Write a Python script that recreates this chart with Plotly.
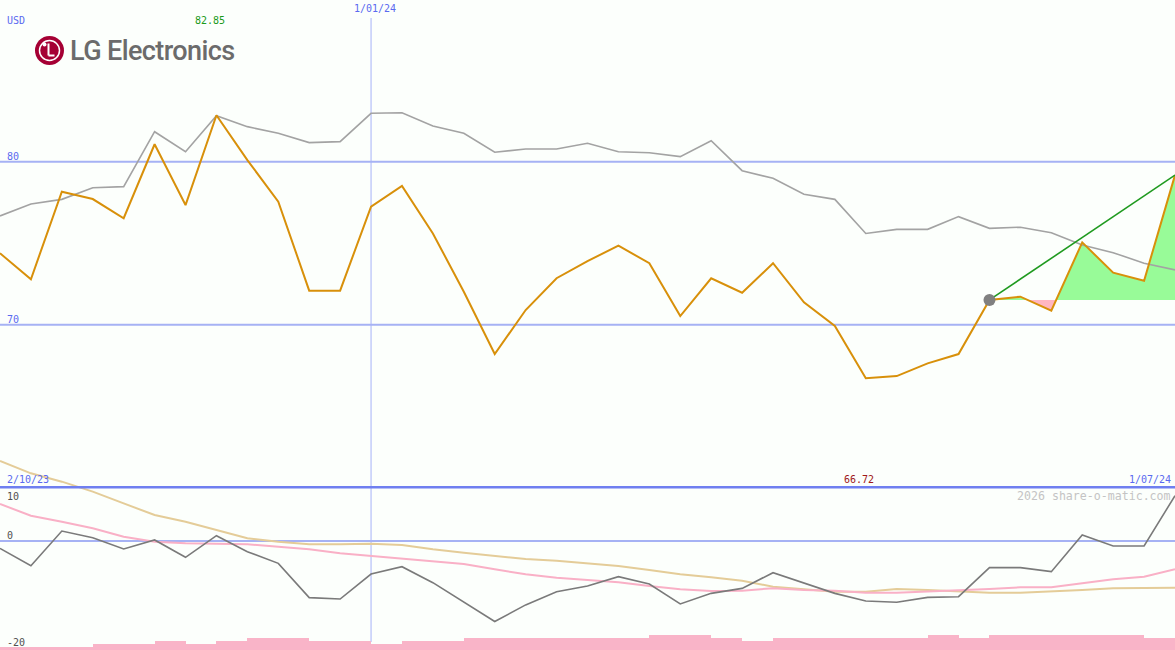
import pandas as pd
import plotly.graph_objects as go

# ---------------- data ----------------
dates = pd.date_range("2023-10-09", periods=39, freq="7D")

close = [74.38, 72.79, 78.16, 77.71, 76.53, 81.07, 77.34, 82.85, 80.10, 77.55,
         72.09, 72.09, 77.24, 78.51, 75.60, 72.02, 68.20, 70.90, 72.85, 73.90,
         74.85, 73.77, 70.53, 72.85, 71.96, 73.77, 71.37, 69.92, 66.72, 66.85,
         67.63, 68.20, 71.52, 71.72, 70.86, 75.05, 73.19, 72.70, 79.18]

moving_avg = [76.67, 77.40, 77.69, 78.40, 78.47, 81.84, 80.61, 82.82, 82.15, 81.74,
              81.17, 81.23, 82.97, 83.00, 82.19, 81.74, 80.58, 80.78, 80.78, 81.13,
              80.61, 80.55, 80.31, 81.29, 79.45, 78.98, 78.00, 77.69, 75.60, 75.85,
              75.85, 76.63, 75.91, 75.98, 75.64, 74.89, 74.42, 73.77, 73.36]

momentum = [-1.37, -4.60, 1.86, 0.62, -1.49, 0.19, -3.04, 0.99, -1.99, -4.16,
            -10.55, -10.80, -6.15, -4.78, -7.76, -11.30, -15.00, -11.90, -9.44, -8.38,
            -6.64, -8.00, -11.73, -9.75, -8.82, -5.90, -7.88, -9.75, -11.17, -11.40,
            -10.50, -10.37, -4.96, -4.96, -5.71, 1.12, -0.93, -0.93, 8.44]

signal_fast = [6.90, 4.70, 3.60, 2.36, 0.80, -0.13, -0.43, -0.56, -0.60, -1.06,
               -1.55, -2.30, -2.80, -3.29, -3.72, -4.28, -5.27, -6.20, -6.83, -7.26,
               -7.69, -8.38, -9.00, -9.31, -9.25, -8.80, -9.12, -9.25, -9.62, -9.62,
               -9.44, -9.12, -8.94, -8.63, -8.63, -7.88, -7.14, -6.64, -5.27]

signal_slow = [14.90, 12.60, 11.05, 9.20, 7.00, 4.84, 3.60, 2.05, 0.50, -0.13,
               -0.62, -0.62, -0.53, -0.74, -1.55, -2.17, -2.80, -3.35, -3.66, -4.16,
               -4.66, -5.40, -6.20, -6.77, -7.40, -8.50, -9.00, -9.44, -9.44, -8.94,
               -9.12, -9.44, -9.62, -9.62, -9.44, -9.12, -8.80, -8.70, -8.70]

volume = [1, 1, 1, 2, 2, 3, 2, 3, 4, 4, 3, 3, 2, 3, 3, 4, 4, 4, 4, 4,
          4, 5, 5, 4, 3, 4, 4, 4, 4, 4, 5, 4, 5, 5, 5, 5, 5, 4]

price_ticks = [80, 70]
osc_ticks = [10, 0, -20]
trend_start = 32
currency = "USD"
title_text = "LG Electronics"
watermark = "2026 share-o-matic.com"

# ---------------- figure ----------------
W, H = 1175, 650
BG = "#fcfffc"
MONO = "DejaVu Sans Mono"
fig = go.Figure()

# fill between price and baseline after trend start
base = close[trend_start]
fx, fv = [dates[trend_start]], [close[trend_start]]
for i in range(trend_start, len(close) - 1):
    t0, t1 = dates[i], dates[i + 1]
    c0, c1 = close[i], close[i + 1]
    if (c0 - base) * (c1 - base) < 0:
        frac = (base - c0) / (c1 - c0)
        fx.append(t0 + (t1 - t0) * frac)
        fv.append(base)
    fx.append(t1)
    fv.append(c1)
up = [max(v, base) for v in fv]
lo = [min(v, base) for v in fv]
for vals, col in ((up, "#98fb98"), (lo, "#ffb6c1")):
    fig.add_trace(go.Scatter(x=fx, y=[base] * len(fx), mode="lines",
                             line=dict(width=0), hoverinfo="skip", showlegend=False))
    fig.add_trace(go.Scatter(x=fx, y=vals, mode="lines", fill="tonexty",
                             fillcolor=col, line=dict(width=0),
                             hoverinfo="skip", showlegend=False))

# main price panel
fig.add_trace(go.Scatter(x=dates, y=moving_avg, mode="lines",
                         line=dict(color="#a3a3a3", width=1.6), showlegend=False))
fig.add_trace(go.Scatter(x=dates, y=close, mode="lines",
                         line=dict(color="#d8900a", width=2), showlegend=False))
fig.add_trace(go.Scatter(x=[dates[trend_start], dates[-1]],
                         y=[close[trend_start], close[-1]], mode="lines",
                         line=dict(color="#1f9a1f", width=1.6), showlegend=False))
fig.add_trace(go.Scatter(x=[dates[trend_start]], y=[close[trend_start]], mode="markers",
                         marker=dict(color="#808080", size=12), showlegend=False))

# lower oscillator panel
bar_x = [dates[i] + (dates[i + 1] - dates[i]) / 2 for i in range(len(volume))]
fig.add_trace(go.Bar(x=bar_x, y=volume, width=7 * 86400000, yaxis="y3",
                     marker=dict(color="#f9b4c8", line=dict(width=0)), showlegend=False))
fig.add_trace(go.Scatter(x=dates, y=signal_slow, yaxis="y2", mode="lines",
                         line=dict(color="#e4cc98", width=2), showlegend=False))
fig.add_trace(go.Scatter(x=dates, y=signal_fast, yaxis="y2", mode="lines",
                         line=dict(color="#f9b0c6", width=2), showlegend=False))
fig.add_trace(go.Scatter(x=dates, y=momentum, yaxis="y2", mode="lines",
                         line=dict(color="#7a7a7a", width=1.6), showlegend=False))

main_top_val = 80 + 161.7 / 16.3
main_bot_val = 80 - (487 - 161.7) / 16.3
osc_bot = (541 - 650) / 5.37
osc_top = (541 - 455) / 5.37

fig.update_layout(
    width=W, height=H, margin=dict(l=0, r=0, t=0, b=0),
    paper_bgcolor=BG, plot_bgcolor="rgba(0,0,0,0)", bargap=0,
    xaxis=dict(range=[dates[0], dates[-1]], visible=False, domain=[0, 1]),
    yaxis=dict(domain=[1 - 487 / H, 1], range=[main_bot_val, main_top_val], visible=False),
    yaxis2=dict(domain=[0, 195 / H], range=[osc_bot, osc_top], visible=False, anchor="x"),
    yaxis3=dict(domain=[0, 195 / H], range=[0, 63.5], visible=False, overlaying="y2"),
)

shapes = []
for v in price_ticks:
    shapes.append(dict(type="line", xref="paper", yref="y", x0=0, x1=1, y0=v, y1=v,
                       line=dict(color="#a6b2f4", width=2), layer="below"))
shapes.append(dict(type="line", xref="paper", yref="y2", x0=0, x1=1, y0=0, y1=0,
                   line=dict(color="#a6b2f4", width=2), layer="below"))
shapes.append(dict(type="line", xref="paper", yref="y2", x0=0, x1=1,
                   y0=osc_ticks[0], y1=osc_ticks[0],
                   line=dict(color="#6f7ff0", width=2.5)))
shapes.append(dict(type="line", xref="x", yref="paper", x0=dates[12], x1=dates[12],
                   y0=1 - 642 / H, y1=1 - 18 / H,
                   line=dict(color="#a6b2f8", width=1), layer="below"))
# logo mark
cx, cy, r = 49.5, 50.5, 14.5
shapes.append(dict(type="circle", xref="paper", yref="paper",
                   x0=(cx - r) / W, x1=(cx + r) / W, y0=1 - (cy + r) / H, y1=1 - (cy - r) / H,
                   fillcolor="#a50034", line=dict(width=0)))
shapes.append(dict(type="circle", xref="paper", yref="paper",
                   x0=(cx - 10) / W, x1=(cx + 10) / W, y0=1 - (cy + 10) / H, y1=1 - (cy - 10) / H,
                   line=dict(color="white", width=1.5)))
shapes.append(dict(type="line", xref="paper", yref="paper",
                   x0=(cx - 1) / W, x1=(cx - 1) / W, y0=1 - (cy - 7) / H, y1=1 - (cy + 5) / H,
                   line=dict(color="white", width=2)))
shapes.append(dict(type="line", xref="paper", yref="paper",
                   x0=(cx - 1) / W, x1=(cx + 5) / W, y0=1 - (cy + 5) / H, y1=1 - (cy + 5) / H,
                   line=dict(color="white", width=2)))
shapes.append(dict(type="circle", xref="paper", yref="paper",
                   x0=(cx - 7) / W, x1=(cx - 3) / W, y0=1 - (cy - 4) / H, y1=1 - (cy - 8) / H,
                   fillcolor="white", line=dict(width=0)))
fig.update_layout(shapes=shapes)


def txt(x, y, s, color, size=10, xanchor="left", family=MONO, weight="normal"):
    fig.add_annotation(x=x / W, y=1 - y / H, xref="paper", yref="paper", text=s,
                       showarrow=False, xanchor=xanchor, yanchor="middle",
                       font=dict(family=family, size=size, color=color, weight=weight))


txt(5, 21, currency, "#5a6af0")
txt(210, 21, f"{max(close):.2f}", "#1a9a1a", xanchor="center")
txt(375, 9, dates[12].strftime("%-d/%m/%y"), "#5a6af0", xanchor="center")
txt(5, 479, "2/10/23", "#5a6af0")
txt(859, 479, f"{min(close):.2f}", "#a01818", xanchor="center")
txt(1173, 479, dates[-1].strftime("%-d/%m/%y"), "#5a6af0", xanchor="right")
txt(1173, 496, watermark, "#c4c4c4", size=11.6, xanchor="right")
for v, yp in zip(price_ticks, [156, 319]):
    txt(5, yp, str(v), "#5a6af0")
for v, yp in zip(osc_ticks, [496, 535, 642]):
    txt(5, yp, str(v), "#505050")
txt(68, 51, "<span style='letter-spacing:-0.6px'>" + title_text + "</span>",
    "#6b6b6b", size=27, family="Roboto", weight=500)

fig.write_html("out.html", config={"displayModeBar": False},
               post_script="document.body.style.margin='0px';")
